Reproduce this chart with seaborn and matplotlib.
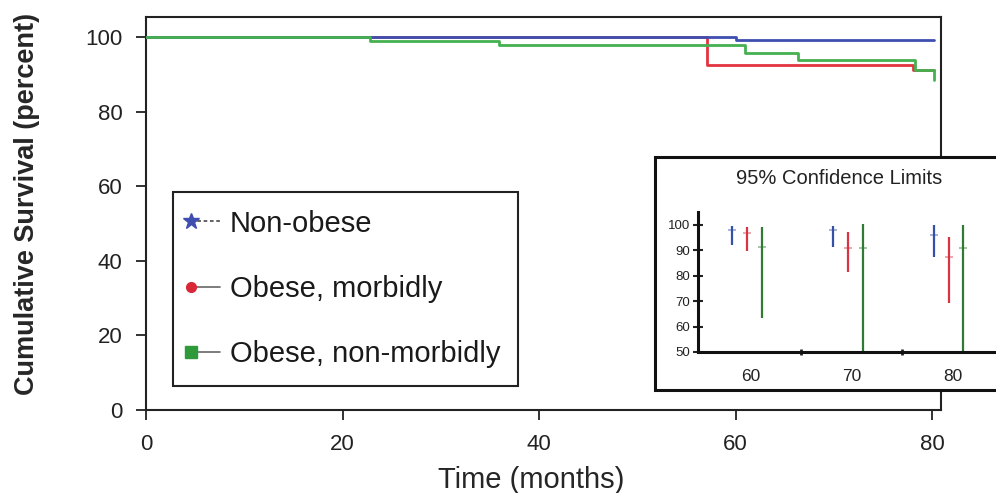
import numpy as np
import pandas as pd
import seaborn as sns
import matplotlib.pyplot as plt
from matplotlib.lines import Line2D
from matplotlib.patches import Rectangle
from matplotlib.legend_handler import HandlerLine2D

# Kaplan-Meier step curves
t_nonobese = [0, 60.0, 80.2]
s_nonobese = [100, 99.3, 99.3]
t_morbid = [0, 57.1, 78.1, 80.2]
s_morbid = [100, 92.5, 91.3, 91.3]
t_nonmorbid = [0, 22.8, 35.9, 61.0, 66.3, 78.3, 80.2, 80.2]
s_nonmorbid = [100, 99.0, 97.9, 95.8, 94.0, 91.2, 91.2, 88.5]

groups = ["Non-obese", "Obese, morbidly", "Obese, non-morbidly"]
main_colors = ["#3f4fb0", "#e33340", "#45b04f"]
marker_colors = ["#3f4fb0", "#d82838", "#2f9a3a"]

# 95% confidence limits at 60, 70, 80 months
ci_times = [60, 70, 80]
ci_lo_nonobese = [92.0, 91.5, 87.5]
ci_hi_nonobese = [99.6, 99.6, 100.0]
est_nonobese = [98.0, 98.0, 96.0]
ci_lo_morbid = [89.8, 81.6, 69.2]
ci_hi_morbid = [99.1, 97.4, 95.4]
est_morbid = [97.0, 91.0, 87.5]
ci_lo_nonmorbid = [63.4, 50.0, 50.0]
ci_hi_nonmorbid = [99.2, 100.5, 100.0]
est_nonmorbid = [91.5, 91.0, 91.0]
inset_colors = ["#3550a8", "#d83444", "#2f7a34"]


class MarkerFirst(HandlerLine2D):
    # marker only at the left end of the legend line
    def create_artists(self, *args, **kwargs):
        arts = super().create_artists(*args, **kwargs)
        for a in arts:
            a.set_markevery([0])
        return arts


sns.set_theme(style="ticks")
plt.rcParams["font.family"] = ["Liberation Sans", "DejaVu Sans"]

df = pd.concat([
    pd.DataFrame({"time": t_nonobese, "surv": s_nonobese, "group": groups[0]}),
    pd.DataFrame({"time": t_morbid, "surv": s_morbid, "group": groups[1]}),
    pd.DataFrame({"time": t_nonmorbid, "surv": s_nonmorbid, "group": groups[2]}),
])

fig = plt.figure(figsize=(9.96, 4.93), dpi=100)
ax = fig.add_axes([146 / 996, 83 / 493, 795 / 996, 393 / 493])

for g, c, z in zip(groups, main_colors, [3, 2, 4]):
    sns.lineplot(data=df[df.group == g], x="time", y="surv", color=c, lw=2,
                 drawstyle="steps-post", sort=False, estimator=None,
                 ax=ax, legend=False, zorder=z)

ax.set_xlim(0, 80.9)
ax.set_ylim(0, 105.4)
ax.set_xticks([0, 20, 40, 60, 80])
ax.set_yticks([0, 20, 40, 60, 80, 100])
ax.tick_params(labelsize=16, length=7, width=1.3, pad=10, colors="#222222")
for sp in ax.spines.values():
    sp.set_linewidth(1.5)
    sp.set_color("#222222")
ax.set_xlabel("Time (months)", fontsize=21, va="center")
ax.xaxis.set_label_coords(0.484, -0.178)
ax.set_ylabel("Cumulative Survival (percent)", fontsize=19.5, fontweight="bold", va="center")
ax.yaxis.set_label_coords(-0.150, 0.524)

handles = [
    Line2D([0, 1], [0, 0], color="#555555", ls=(0, (2, 1.5)), lw=1.3, marker="*", ms=12),
    Line2D([0, 1], [0, 0], color="#666666", ls="-", lw=1.2, marker="o", ms=7),
    Line2D([0, 1], [0, 0], color="#666666", ls="-", lw=1.2, marker="s", ms=8),
]
for h, mc in zip(handles, marker_colors):
    h.set_markeredgecolor(mc)
    h.set_markerfacecolor(mc)
leg = ax.legend(handles, groups, loc="upper left", bbox_to_anchor=(173 / 996, 1 - 192 / 493),
                bbox_transform=fig.transFigure, borderaxespad=0, fontsize=21, numpoints=2,
                handler_map={Line2D: MarkerFirst(marker_pad=0)},
                handlelength=1.0, handletextpad=0.35, labelspacing=1.28, borderpad=0.6,
                fancybox=False, framealpha=1, edgecolor="#222222")
leg.get_frame().set_linewidth(1.5)
for t in leg.get_texts():
    t.set_color("#1a1a1a")

# inset box with confidence limits
box = Rectangle((655 / 996, 103 / 493), 400 / 996, 233 / 493, transform=fig.transFigure,
                facecolor="white", edgecolor="#111111", lw=2.2, zorder=1)
fig.add_artist(box)
fig.text(839 / 996, 1 - 178 / 493, "95% Confidence Limits", ha="center", va="center",
         fontsize=14.5, color="#222222", zorder=3)

axi = fig.add_axes([698 / 996, 141 / 493, 320 / 996, 140 / 493], zorder=2)
axi.patch.set_alpha(0)
offsets = [-1.8, -0.3, 1.1]
ci_sets = [(ci_lo_nonobese, ci_hi_nonobese, est_nonobese),
           (ci_lo_morbid, ci_hi_morbid, est_morbid),
           (ci_lo_nonmorbid, ci_hi_nonmorbid, est_nonmorbid)]
for (lo, hi, est), off, c in zip(ci_sets, offsets, inset_colors):
    xs = np.array(ci_times) + off
    axi.vlines(xs, lo, hi, color=c, lw=1.6)
    axi.plot(xs, est, ls="none", marker="_", ms=6, mew=1.2, color=c, alpha=0.5)

axi.set_xlim(54.8, 86.5)
axi.set_ylim(50, 105.1)
axi.set_yticks([50, 60, 70, 80, 90, 100])
axi.set_xticks([65, 75, 85])
axi.set_xticklabels([])
axi.set_xticks(ci_times, minor=True)
axi.set_xticklabels([str(v) for v in ci_times], minor=True)
axi.tick_params(axis="x", which="minor", length=0, labelsize=12.5, pad=12, colors="#222222")
axi.tick_params(axis="x", which="major", length=5, width=2, direction="inout")
axi.tick_params(axis="y", labelsize=9.5, length=7, width=1.5, direction="inout", colors="#222222", pad=2)
for s in ["top", "right"]:
    axi.spines[s].set_visible(False)
for s in ["left", "bottom"]:
    axi.spines[s].set_linewidth(2.2)
    axi.spines[s].set_color("#111111")

fig.savefig("out.png", dpi=100, facecolor="white")
